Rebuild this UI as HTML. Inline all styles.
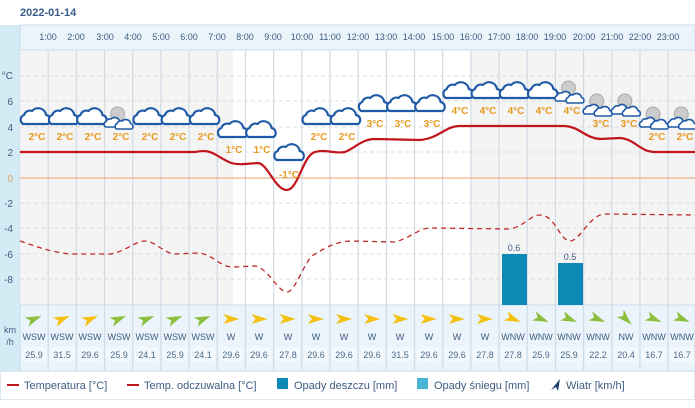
<!DOCTYPE html>
<html><head><meta charset="utf-8"><style>
html,body{margin:0;padding:0;background:#fff;width:695px;height:408px;overflow:hidden}
svg{display:block;font-family:"Liberation Sans",Arial,sans-serif}
</style></head><body>
<svg id="s" width="695" height="408" viewBox="0 0 695 408">
<defs>
<g id="cl"><path d="M-12,6 a5,5 0 0 1 1,-9 a6,6 0 0 1 8,-4 a8,8 0 0 1 14,4 a5,5 0 0 1 2,9 z" fill="#fff" stroke="#1f5aa6" stroke-width="2.2" stroke-linejoin="round"/></g>
<g id="sc"><path d="M-7,4 a3,3 0 0 1 0.5,-5.5 a4,4 0 0 1 5,-2.5 a5,5 0 0 1 8.5,2.5 a3,3 0 0 1 1,5.5 z" fill="#fff" stroke="#1f5aa6" stroke-width="1.6" stroke-linejoin="round"/></g>
<g id="nt"><circle cx="-2" cy="-6" r="7" fill="#ccc" stroke="#aaa" stroke-width="1"/><use href="#sc" x="-7" y="3"/><use href="#sc" x="4" y="5"/></g>
</defs>
<text x="20" y="16" font-size="11" font-weight="bold" fill="#3a5a8a">2022-01-14</text>
<rect x="0" y="25" width="695" height="346" fill="#eaf4fa"/>
<rect x="0" y="25" width="20" height="346" fill="#d3ebf5"/>
<rect x="20" y="25" width="675" height="346" fill="none" stroke="#c8dcea"/>
<rect x="20" y="50" width="675" height="255" fill="#fff"/>
<rect x="20" y="50" width="213" height="255" fill="#f4f4f4"/>
<rect x="471" y="50" width="224" height="255" fill="#f4f4f4"/>
<g id="grid"></g>
<g font-size="9" fill="#3e5c80" text-anchor="middle">
<text x="48" y="40">1:00</text><text x="76" y="40">2:00</text><text x="105" y="40">3:00</text><text x="133" y="40">4:00</text><text x="161" y="40">5:00</text><text x="189" y="40">6:00</text><text x="217" y="40">7:00</text><text x="245" y="40">8:00</text><text x="273" y="40">9:00</text><text x="302" y="40">10:00</text><text x="330" y="40">11:00</text><text x="358" y="40">12:00</text><text x="386" y="40">13:00</text><text x="414" y="40">14:00</text><text x="443" y="40">15:00</text><text x="471" y="40">16:00</text><text x="499" y="40">17:00</text><text x="527" y="40">18:00</text><text x="555" y="40">19:00</text><text x="584" y="40">20:00</text><text x="612" y="40">21:00</text><text x="640" y="40">22:00</text><text x="668" y="40">23:00</text>
</g>
<g font-size="10" fill="#3e5c80" text-anchor="end">
<text x="13" y="79">°C</text><text x="13" y="105">6</text><text x="13" y="131">4</text><text x="13" y="156">2</text><text x="13" y="182" fill="#e0a060">0</text><text x="13" y="207">-2</text><text x="13" y="232">-4</text><text x="13" y="258">-6</text><text x="13" y="283">-8</text>
</g>
<text x="10" y="333" font-size="9" fill="#3e5c80" text-anchor="middle">km</text>
<text x="10" y="345" font-size="9" fill="#3e5c80" text-anchor="middle">/h</text>
<line x1="20" y1="178" x2="695" y2="178" stroke="#e8a070" stroke-width="1"/>
<rect x="502" y="254" width="25" height="51" fill="#0e88b4"/>
<rect x="558" y="263" width="25" height="42" fill="#0e88b4"/>
<g font-size="9" fill="#3e5c80" text-anchor="middle"><text x="514" y="251">0.6</text><text x="570" y="260">0.5</text></g>
<path d="M20,241 C35,246 50,252 70,254 L110,254 C125,252 135,241 145,241 C155,241 165,254 175,254 L200,253 C215,256 220,267 233,267 L255,266 C268,268 278,292 287,292 C296,292 305,258 315,254 C325,248 335,242 350,241 L395,242 C410,238 420,228 430,228 L510,229 C525,226 530,215 540,215 C555,215 560,241 570,241 C580,241 590,214 605,214 L695,215" fill="none" stroke="#c0282a" stroke-width="1.3" stroke-dasharray="5,4"/>
<path d="M20,152 L195,152 C205,150 210,151 218,156 C228,162 232,165 245,164 L258,163 C268,164 275,190 287,190 C298,190 303,155 315,152 C325,149 335,154 345,152 C355,148 362,139 375,139 L420,140 C440,138 445,126 460,126 L565,126 C580,127 585,138 600,139 L620,138 C635,139 640,152 655,152 L695,152" fill="none" stroke="#c0161c" stroke-width="2.2"/>
<g id="icons"></g>
<g font-size="10" font-weight="bold" fill="#e89a20" text-anchor="middle">
<text x="37" y="140">2°C</text><text x="65" y="140">2°C</text><text x="93" y="140">2°C</text><text x="121" y="140">2°C</text><text x="150" y="140">2°C</text><text x="178" y="140">2°C</text><text x="206" y="140">2°C</text><text x="234" y="153">1°C</text><text x="262" y="153">1°C</text><text x="289" y="178">-1°C</text><text x="319" y="140">2°C</text><text x="347" y="140">2°C</text><text x="375" y="127">3°C</text><text x="403" y="127">3°C</text><text x="432" y="127">3°C</text><text x="460" y="114">4°C</text><text x="488" y="114">4°C</text><text x="516" y="114">4°C</text><text x="544" y="114">4°C</text><text x="572" y="114">4°C</text><text x="601" y="127">3°C</text><text x="629" y="127">3°C</text><text x="657" y="140">2°C</text><text x="685" y="140">2°C</text>
</g>
<g id="wind"></g>
<g font-size="9" fill="#3e5c80" text-anchor="middle">
<text x="34" y="340">WSW</text><text x="62" y="340">WSW</text><text x="90" y="340">WSW</text><text x="119" y="340">WSW</text><text x="147" y="340">WSW</text><text x="175" y="340">WSW</text><text x="203" y="340">WSW</text><text x="231" y="340">W</text><text x="259" y="340">W</text><text x="288" y="340">W</text><text x="316" y="340">W</text><text x="344" y="340">W</text><text x="372" y="340">W</text><text x="400" y="340">W</text><text x="429" y="340">W</text><text x="457" y="340">W</text><text x="485" y="340">W</text><text x="513" y="340">WNW</text><text x="541" y="340">WNW</text><text x="569" y="340">WNW</text><text x="598" y="340">WNW</text><text x="626" y="340">NW</text><text x="654" y="340">WNW</text><text x="682" y="340">WNW</text>
</g>
<g font-size="9" fill="#4a6a8a" text-anchor="middle">
<text x="34" y="358">25.9</text><text x="62" y="358">31.5</text><text x="90" y="358">29.6</text><text x="119" y="358">25.9</text><text x="147" y="358">24.1</text><text x="175" y="358">25.9</text><text x="203" y="358">24.1</text><text x="231" y="358">29.6</text><text x="259" y="358">29.6</text><text x="288" y="358">27.8</text><text x="316" y="358">29.6</text><text x="344" y="358">29.6</text><text x="372" y="358">29.6</text><text x="400" y="358">31.5</text><text x="429" y="358">29.6</text><text x="457" y="358">29.6</text><text x="485" y="358">27.8</text><text x="513" y="358">27.8</text><text x="541" y="358">25.9</text><text x="569" y="358">25.9</text><text x="598" y="358">22.2</text><text x="626" y="358">20.4</text><text x="654" y="358">16.7</text><text x="682" y="358">16.7</text>
</g>
<rect x="0.5" y="371.5" width="694" height="28" fill="#fff" stroke="#dbe8f0"/>
<g font-size="11" fill="#3e5c80">
<line x1="7" y1="385" x2="19" y2="385" stroke="#c0161c" stroke-width="2"/><text x="24" y="389">Temperatura [°C]</text>
<line x1="127" y1="385" x2="139" y2="385" stroke="#c0161c" stroke-width="2"/><text x="144" y="389">Temp. odczuwalna [°C]</text>
<rect x="277" y="378" width="11" height="11" fill="#0e88b4"/><text x="294" y="389">Opady deszczu [mm]</text>
<rect x="417" y="378" width="11" height="11" fill="#4ab4d4"/><text x="434" y="389">Opady śniegu [mm]</text>
<path d="M551,390 L560,379 L558,391 L556,387 Z" fill="#1f3f6f"/><text x="566" y="389">Wiatr [km/h]</text>
</g>
<script>
var ns="http://www.w3.org/2000/svg";
function el(p,t,a){var e=document.createElementNS(ns,t);for(var k in a)e.setAttribute(k,a[k]);document.getElementById(p).appendChild(e);return e;}
for(var k=1;k<24;k++){var x=20+28.18*k;el("grid","line",{x1:x,y1:50,x2:x,y2:370,stroke:"#d0dbe6","stroke-width":1.2});}
[76,101,127,152,203,228,254,279].forEach(function(y){el("grid","line",{x1:20,y1:y,x2:695,y2:y,stroke:"#dcdcdc","stroke-dasharray":"4,3"});});
el("grid","line",{x1:20,y1:50,x2:695,y2:50,stroke:"#c8dcea"});
el("grid","line",{x1:20,y1:305,x2:695,y2:305,stroke:"#c8dcea"});
for(var k=0;k<24;k++){var c=34.09+28.18*k;el("grid","rect",{x:c-12,y:347,width:24,height:15,rx:3,fill:"#f2f8fc"});}
var t=[2,2,2,2,2,2,2,1,1,-1,2,2,3,3,3,4,4,4,4,4,3,3,2,2];
var night={3:1,19:1,20:1,21:1,22:1,23:1};
for(var k=0;k<24;k++){var c=34.09+28.18*k+1;var yb={4:112,3:125,2:138,1:151,"-1":174}[t[k]]-20;
 if(night[k])el("icons","use",{href:"#nt",x:c,y:yb+2});else el("icons","use",{href:"#cl",x:c,y:yb});}
var sp=[25.9,31.5,29.6,25.9,24.1,25.9,24.1,29.6,29.6,27.8,29.6,29.6,29.6,31.5,29.6,29.6,27.8,27.8,25.9,25.9,22.2,20.4,16.7,16.7];
var dir=[-22.5,-22.5,-22.5,-22.5,-22.5,-22.5,-22.5,0,0,0,0,0,0,0,0,0,0,22.5,22.5,22.5,22.5,45,22.5,22.5];
for(var k=0;k<24;k++){var c=34.09+28.18*k;var col=sp[k]>=27?"#f5c010":"#8cbf3c";
 el("wind","path",{d:"M-8,-5 L8,0 L-8,5 L-4,0 Z",fill:col,transform:"translate("+c+",319) rotate("+dir[k]+")"});}
</script>
</svg>
</body></html>
